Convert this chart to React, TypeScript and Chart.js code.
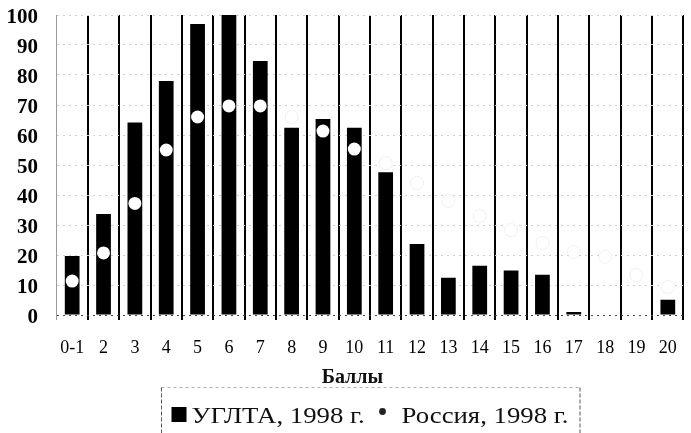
import React, { useEffect, useRef } from 'react';
import { Chart, registerables } from 'chart.js';

Chart.register(...registerables);

const categories = ['0-1', '2', '3', '4', '5', '6', '7', '8', '9', '10', '11', '12', '13', '14', '15', '16', '17', '18', '19', '20'];
const ugltaValues = [19.7, 33.7, 64.2, 78, 97, 100, 84.7, 62.4, 65.3, 62.4, 47.6, 23.7, 12.4, 16.4, 14.8, 13.4, 1, 0, 0, 5.1];
const russiaValues = [11.3, 20.7, 37.2, 55, 66, 69.7, 69.7, 66, 61.3, 55.3, 50.6, 44, 38, 33, 28.3, 24, 21, 19.4, 13.3, 9.3];
const yMin = 0;
const yMax = 100;
const yStep = 10;
const axisTitle = 'Баллы';
const seriesLabels = ['УГЛТА, 1998 г.', 'Россия, 1998 г.'];

const FONT = '"Liberation Serif", "Times New Roman", serif';

const bottomTextPlugin = {
  id: 'bottomText',
  afterDraw(chart: any) {
    const { ctx, chartArea } = chart;
    const L = chartArea.left;
    const B = chartArea.bottom;
    ctx.save();
    // axis title
    ctx.fillStyle = '#111';
    ctx.textAlign = 'center';
    ctx.textBaseline = 'alphabetic';
    ctx.font = `bold 20px ${FONT}`;
    ctx.fillText(axisTitle, L + chartArea.width * 0.472, B + 68);

    // legend box
    const bx = L + 105;
    const by = B + 72.5;
    const bw = 418.5;
    ctx.lineWidth = 1;
    ctx.setLineDash([3, 3]);
    ctx.strokeStyle = '#b0b0b0';
    ctx.beginPath();
    ctx.moveTo(bx, by);
    ctx.lineTo(bx + bw, by);
    ctx.stroke();
    ctx.strokeStyle = '#555';
    ctx.setLineDash([4, 2]);
    ctx.beginPath();
    ctx.moveTo(bx, by);
    ctx.lineTo(bx, by + 60);
    ctx.moveTo(bx + bw, by);
    ctx.lineTo(bx + bw, by + 60);
    ctx.stroke();
    ctx.setLineDash([]);

    // legend entries
    ctx.fillStyle = '#000';
    ctx.fillRect(bx + 10, by + 19.5, 15, 15);

    ctx.beginPath();
    ctx.arc(bx + 221, by + 24, 3.4, 0, Math.PI * 2);
    ctx.fillStyle = '#222';
    ctx.fill();

    ctx.fillStyle = '#111';
    ctx.font = `24px ${FONT}`;
    ctx.textAlign = 'left';
    const sx = 1.115;
    ctx.save();
    ctx.translate(bx + 30, B + 108);
    ctx.scale(sx, 1);
    ctx.fillText(seriesLabels[0], 0, 0);
    ctx.restore();
    ctx.save();
    ctx.translate(bx + 240, B + 108);
    ctx.scale(sx, 1);
    ctx.fillText(seriesLabels[1], 0, 0);
    ctx.restore();
    ctx.restore();
  },
};

export default function App() {
  const ref = useRef<HTMLCanvasElement | null>(null);

  useEffect(() => {
    if (!ref.current) return;
    const chart = new Chart(ref.current, {
      type: 'bar',
      data: {
        labels: categories,
        datasets: [
          {
            type: 'line',
            label: seriesLabels[1],
            data: russiaValues,
            showLine: false,
            pointRadius: 6.5,
            pointBackgroundColor: '#fff',
            pointBorderColor: 'rgba(0,0,0,0.06)',
            pointBorderWidth: 1,
            order: 0,
          } as any,
          {
            type: 'bar',
            label: seriesLabels[0],
            data: ugltaValues,
            backgroundColor: '#000',
            borderWidth: 0,
            barPercentage: 0.47,
            categoryPercentage: 1,
            order: 1,
          },
        ],
      },
      options: {
        animation: false,
        responsive: true,
        maintainAspectRatio: false,
        layout: { padding: { left: 0, right: 0, top: 15, bottom: 0 } },
        plugins: {
          legend: { display: false },
          tooltip: { enabled: false },
        },
        scales: {
          x: {
            offset: true,
            grid: {
              offset: true,
              color: (c: any) => (c.index === 0 ? '#9a9a9a' : c.index === categories.length ? '#cfcfcf' : '#000'),
              lineWidth: (c: any) => (c.index === 0 || c.index === categories.length ? 1 : 2),
              tickLength: 5,
            },
            border: { display: false },
            ticks: {
              color: '#000',
              font: { family: FONT, size: 18 },
              padding: 17,
              maxRotation: 0,
              autoSkip: false,
            },
            afterFit: (scale: any) => {
              scale.height = 118;
              scale.paddingLeft = 0;
              scale.paddingRight = 0;
            },
          },
          y: {
            min: yMin,
            max: yMax,
            ticks: {
              stepSize: yStep,
              color: '#000',
              font: { family: FONT, size: 21, weight: 'bold' },
              padding: 18.5,
              labelOffset: 3,
            },
            grid: {
              color: (c: any) => (c.tick && c.tick.value === 0 ? '#444' : '#d0d0d0'),
              lineWidth: 1,
              drawTicks: false,
            },
            border: { display: false, dash: [2, 4] },
            afterFit: (scale: any) => {
              scale.width = 56.5;
              scale.paddingTop = 0;
              scale.paddingBottom = 0;
            },
          },
        },
      },
      plugins: [bottomTextPlugin],
    });
    return () => chart.destroy();
  }, []);

  return (
    <div style={{ position: 'absolute', left: 0, top: 0, width: 691, height: 433, background: '#fff' }}>
      <canvas ref={ref} />
    </div>
  );
}
